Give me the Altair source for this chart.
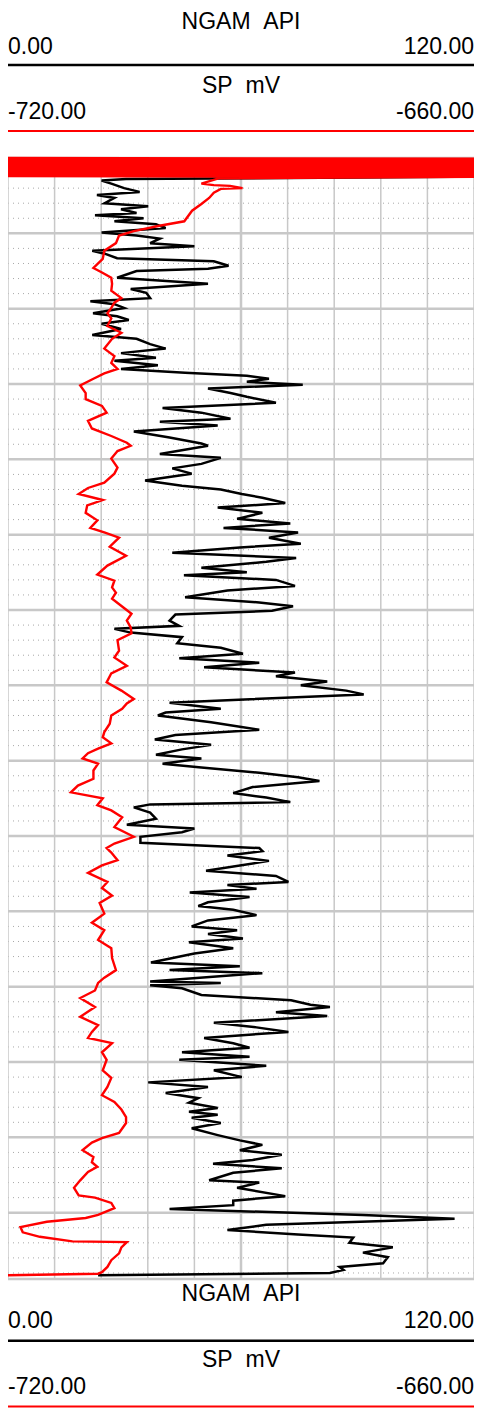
import altair as alt
import pandas as pd

# ---------------- data ----------------
gr_name = "NGAM\u00a0\u00a0API"
sp_name = "SP\u00a0\u00a0mV"
gr_domain = [0.0, 120.0]
sp_domain = [-720.0, -660.0]
depth_range = [0.0, 148.8]

grid_values_api = [0, 12, 24, 36, 48, 60, 72, 84, 96, 108, 120]
major_depths = [0, 10, 20, 30, 40, 50, 60, 70, 80, 90, 100, 110, 120, 130, 140, 148.8]
minor_depths = [d for d in range(2, 149, 2) if d % 10 != 0]

gr_depth = [0.4, 0.55, 0.65, 1.3, 1.45, 1.9, 2.0, 2.3, 2.5,
    2.8, 3.0, 3.4, 4.0, 4.5, 4.9, 5.3, 6.0, 6.4, 6.8, 7.3, 7.6, 8.0, 8.4, 8.8, 9.3, 9.9,
    10.3, 10.7, 11.3, 11.7, 12.3, 12.7, 13.3, 13.7, 14.3, 14.7, 15.0, 15.9, 16.7, 17.4,
    17.9, 18.6, 19.0, 19.4, 19.9, 20.6, 21.0, 21.5, 22.0, 22.7, 23.5, 24.0, 24.7, 25.3,
    25.9, 26.5, 26.9, 27.5, 28.0, 28.5, 28.9, 29.3, 29.7, 30.1, 30.6, 31.2, 31.7, 32.5,
    33.2, 33.8, 34.6, 35.0, 35.5, 36.3, 37.1, 37.9, 38.2, 39.3, 39.8, 40.6, 41.2, 41.9,
    42.8, 43.5, 44.0, 44.6, 45.1, 45.8, 46.4, 47.1, 47.9, 48.5, 49.1, 49.7, 50.4, 51.2,
    51.7, 52.4, 53.1, 53.6, 54.4, 55.0, 55.4, 56.0, 56.8, 57.4, 58.3, 59.0, 59.5, 60.1,
    60.6, 61.4, 62.1, 62.5, 63.0, 63.6, 64.4, 65.0, 65.8, 66.4, 67.0, 67.6, 68.3, 68.8,
    69.5, 70.0, 70.7, 71.2, 72.3, 73.1, 73.6, 74.0, 74.9, 75.9, 76.6, 77.2, 77.9, 78.5,
    79.2, 79.7, 80.4, 80.9, 81.6, 82.2, 82.7, 83.5, 84.3, 84.9, 85.5, 85.8, 86.2, 86.9,
    87.7, 88.5, 89.0, 89.5, 90.1, 90.9, 91.6, 92.0, 92.6, 93.3, 94.6, 95.3, 96.1, 96.5,
    97.0, 97.5, 98.1, 98.8, 99.3, 99.8, 100.5, 101.2, 102.0, 102.5, 103.0, 103.6, 104.1,
    104.9, 105.6, 106.8, 107.3, 107.8, 108.2, 109.3, 109.5, 109.8, 110.2, 111.1, 111.8,
    112.4, 112.7, 113.4, 113.9, 114.8, 115.4, 116.0, 116.8, 117.5, 118.1, 118.7, 119.3,
    119.7, 120.5, 121.1, 122.0, 122.7, 123.3, 124.1, 124.8, 125.4, 126.1, 126.6, 127.0,
    127.4, 128.1, 128.8, 129.7, 130.4, 131.0, 131.7, 132.3, 133.0, 133.5, 134.1, 134.7,
    135.7, 136.0, 136.7, 137.8, 138.4, 139.0, 139.5, 140.3, 140.8, 141.6, 142.3, 142.9,
    143.3, 144.0, 144.6, 145.3, 145.9, 146.7, 147.2, 147.6, 148.0, 148.3]
gr_api = [125, 84, 55, 61, 0, -5, 60, 125, 115,
    30.4, 24.1, 26.6, 29.9, 33.9, 22.9, 27.4, 24.9, 36.1, 29.1, 33.1, 22.4, 34.9, 27.4, 38.1, 40.6, 24.1,
    33.1, 39.1, 36.6, 48.0, 21.7, 24.9, 28.1, 53.0, 56.8, 51.5, 33.1, 28.1, 51.5, 31.6,
    35.6, 36.6, 21.2, 27.4, 29.9, 21.9, 28.1, 31.1, 24.1, 29.1, 21.7, 33.1, 36.6, 40.6,
    29.1, 38.1, 27.4, 38.6, 29.1, 45.6, 61.5, 67.2, 61.5, 75.9, 51.5, 57.3, 61.5, 69.0,
    39.8, 49.8, 57.3, 39.1, 54.0, 32.4, 41.6, 49.8, 51.5, 39.1, 54.8, 49.8, 42.3, 47.3,
    35.3, 44.8, 54.8, 60.2, 65.5, 71.4, 54.0, 65.5, 59.0, 72.7, 55.5, 74.7, 67.2, 75.4,
    59.7, 42.3, 74.2, 66.5, 49.8, 61.5, 45.3, 69.0, 73.9, 56.5, 45.6, 64.7, 73.4, 68.0,
    43.1, 41.6, 44.1, 27.4, 31.6, 44.8, 43.6, 54.8, 60.5, 44.1, 64.7, 50.5, 73.9, 69.0,
    82.2, 75.4, 87.1, 91.6, 41.6, 54.8, 40.6, 38.6, 52.3, 64.7, 43.1, 37.8, 52.3, 44.8,
    38.1, 49.8, 39.8, 49.8, 64.7, 74.7, 80.2, 63.0, 58.0, 66.5, 72.7, 36.6, 32.4, 36.6,
    38.1, 30.6, 48.0, 44.8, 34.1, 34.1, 64.7, 65.5, 56.5, 67.2, 51.0, 69.0, 72.2, 56.5,
    64.0, 46.8, 62.2, 51.5, 49.0, 58.0, 64.0, 51.5, 47.3, 59.0, 51.5, 60.5, 46.6,
    58.0, 48.0, 36.8, 59.7, 41.6, 65.5, 36.6, 54.8, 36.6, 44.8, 49.8, 72.9,
    77.9, 82.9, 69.0, 82.2, 53.0, 64.0, 72.2, 50.5, 58.0, 62.2, 44.8, 62.2,
    44.1, 66.5, 53.0, 60.2, 36.1, 51.5, 40.6, 49.0, 46.6, 54.0, 46.6, 54.0,
    47.3, 54.8, 47.3, 54.0, 59.7, 65.5, 59.7, 70.5, 63.0, 52.8, 70.5, 58.0,
    51.8, 64.7, 59.0, 71.4, 58.0, 58.0, 41.6, 91.4, 115.0, 66.5, 56.5, 74.7,
    88.9, 87.9, 99.1, 91.4, 97.8, 96.6, 85.4, 86.4, 82.9, 23.2]

# top of the SP log is off scale (dense wrap-around), then the readable curve
sp_band_depth = [0.0, 0.1, 0.2, 0.3, 0.4, 0.5, 0.6, 0.7, 0.8, 0.9, 1.0, 1.1, 1.2,
    1.3, 1.4, 1.5, 1.6, 1.7, 1.8, 1.9, 2.0, 2.1, 2.2, 2.3, 2.4, 2.5]
sp_band_mv = [-722, -658, -722, -658, -722, -658, -722, -658, -722, -658, -722, -658, -722,
    -658, -722, -658, -722, -658, -722, -658, -722, -658, -722, -658, -722, -658]
sp_depth = [
    2.7, 3.4, 3.6, 3.7, 4.0, 4.1, 4.6, 5.3, 6.1, 7.0, 8.4, 9.0, 9.7, 10.3, 11.3, 12.3,
    13.4, 14.6, 15.2, 15.9, 16.7, 17.6, 18.6, 19.2, 19.9, 20.6, 21.3, 22.3, 23.2, 24.0,
    25.3, 26.3, 27.2, 28.0, 28.6, 29.3, 30.2, 31.2, 32.0, 32.9, 33.8, 34.9, 35.9, 36.9,
    37.8, 38.2, 38.9, 39.9, 41.1, 41.9, 43.1, 43.8, 44.6, 45.4, 46.1, 47.1, 48.1, 49.1,
    49.7, 50.4, 51.6, 52.8, 54.1, 55.3, 56.1, 57.0, 57.7, 58.5, 59.7, 60.5, 61.4, 62.3,
    63.1, 64.0, 65.4, 66.3, 67.4, 68.4, 69.6, 70.7, 71.8, 72.4, 73.1, 74.0, 75.1, 76.2,
    76.9, 77.7, 78.4, 79.0, 79.7, 80.4, 81.3, 82.4, 83.3, 84.2, 85.0, 85.9, 86.6, 87.5,
    88.8, 90.1, 91.0, 91.6, 92.2, 93.2, 93.9, 94.9, 96.1, 96.9, 97.9, 98.9, 100.3, 101.5,
    102.5, 103.8, 104.9, 106.2, 107.8, 108.8, 109.5, 110.5, 111.5, 112.7, 114.0, 115.1,
    116.0, 116.8, 117.5, 118.7, 119.7, 121.1, 122.1, 123.3, 124.4, 125.3, 126.3, 127.3,
    128.1, 129.4, 130.1, 130.7, 131.7, 132.6, 133.3, 133.9, 134.6, 135.7, 136.7, 137.7,
    138.0, 138.7, 139.4, 140.3, 140.7, 141.2, 141.9, 142.6, 143.2, 143.8, 143.9, 144.6,
    145.4, 146.3, 147.2, 147.9, 148.1, 148.3]
sp_mv = [
    -692.9, -695.1, -693.5, -691.4, -689.8, -692.6, -693.5, -694.1, -695.1, -696.3, -697.3, -700.5, -703.8, -705.7, -706.1, -707.6,
    -707.8, -709.0, -707.9, -706.7, -706.6, -706.7, -705.4, -706.3, -706.7, -707.2, -706.7, -707.2, -705.4, -706.6,
    -707.6, -706.3, -706.7, -705.9, -707.6, -709.0, -710.7, -710.0, -710.0, -707.9, -707.3, -709.7, -709.2, -706.7,
    -704.7, -704.2, -705.9, -706.7, -705.9, -706.3, -707.6, -709.7, -710.9, -707.8, -709.8, -710.0, -708.5, -709.4,
    -707.6, -705.7, -706.9, -704.8, -707.2, -708.5, -706.3, -706.6, -706.1, -706.6, -705.1, -704.1, -704.7, -704.2,
    -704.1, -705.9, -705.7, -706.3, -704.7, -706.7, -707.3, -705.4, -703.8, -704.7, -705.3, -706.7, -706.9, -707.6,
    -707.8, -706.7, -708.4, -709.7, -710.4, -708.4, -709.0, -709.0, -711.0, -711.9, -707.8, -708.5, -706.7, -705.3,
    -706.3, -703.8, -706.3, -707.3, -706.7, -705.9, -707.9, -709.7, -707.2, -707.9, -706.6, -708.2, -707.6, -709.2,
    -707.6, -708.4, -706.7, -706.6, -706.1, -707.6, -708.4, -708.8, -710.7, -708.8, -710.7, -708.4,
    -709.2, -709.7, -706.6, -707.9, -707.3, -707.8, -706.7, -707.2, -707.9, -706.3, -705.4, -704.8,
    -704.8, -705.7, -707.9, -709.2, -710.4, -709.0, -709.2, -708.5, -709.7, -710.7, -711.5, -710.9,
    -708.8, -706.7, -706.3, -708.4, -710.0, -715.0, -718.4, -718.1, -715.9, -711.7, -704.7, -705.4,
    -705.7, -706.7, -707.2, -707.9, -708.4, -720.0]

# ---------------- layout / style ----------------
W = 466
H = 1400
TRACK_TOP, TRACK_BOTTOM = 150, 1271
FONT = "Liberation Sans"
FS = 23
GRID = "#c8c8c8"
RED = "#ff0000"

gr_df = pd.DataFrame({"depth": gr_depth, "api": gr_api})
sp_df = pd.DataFrame({"depth": sp_band_depth + sp_depth, "mv": sp_band_mv + sp_mv})

yscale = alt.Scale(domain=depth_range, range=[TRACK_TOP, TRACK_BOTTOM], nice=False, zero=False)
grx = alt.Scale(domain=gr_domain, nice=False, zero=False)
spx = alt.Scale(domain=sp_domain, nice=False, zero=False)

minor = alt.Chart(pd.DataFrame({"d": minor_depths})).mark_rule(
    color="#a8a8a8", strokeWidth=1, strokeDash=[1, 4]
).encode(y=alt.Y("d:Q", scale=yscale, axis=None))

vgrid = alt.Chart(
    pd.DataFrame({"v": grid_values_api, "top": depth_range[0], "bottom": depth_range[1]})
).mark_rule(color=GRID).encode(
    x=alt.X("v:Q", scale=grx, axis=None),
    y=alt.Y("top:Q", scale=yscale, axis=None),
    y2="bottom:Q",
    strokeWidth=alt.condition("datum.v == 60", alt.value(2.5), alt.value(1.5)),
)

major = alt.Chart(pd.DataFrame({"d": major_depths})).mark_rule(
    color=GRID, strokeWidth=2.5
).encode(y=alt.Y("d:Q", scale=yscale, axis=None))

gr_line = alt.Chart(gr_df).mark_line(color="black", strokeWidth=2.5, clip=True).encode(
    x=alt.X("api:Q", scale=grx, axis=None),
    y=alt.Y("depth:Q", scale=yscale, axis=None),
    order="depth:Q",
)

sp_line = alt.Chart(sp_df).mark_line(color=RED, strokeWidth=2.4, clip=True).encode(
    x=alt.X("mv:Q", scale=spx, axis=None),
    y=alt.Y("depth:Q", scale=yscale, axis=None),
    order="depth:Q",
)


def label(text, x, y, align):
    return alt.Chart(pd.DataFrame({"t": [text]})).mark_text(
        font=FONT, fontSize=FS, align=align, baseline="alphabetic", color="black"
    ).encode(text="t:N", x=alt.value(x), y=alt.value(y))


def hline(y, color, width):
    return alt.Chart(pd.DataFrame({"t": [0]})).mark_rule(
        color=color, strokeWidth=width
    ).encode(x=alt.value(0), x2=alt.value(W), y=alt.value(y))


def scale_block(ys):
    n1, v1, r1, n2, v2, r2 = ys
    return [
        label(gr_name, W / 2, n1, "center"),
        label(f"{gr_domain[0]:.2f}", 0, v1, "left"),
        label(f"{gr_domain[1]:.2f}", W, v1, "right"),
        hline(r1, "black", 2.5),
        label(sp_name, W / 2, n2, "center"),
        label(f"{sp_domain[0]:.2f}", 0, v2, "left"),
        label(f"{sp_domain[1]:.2f}", W, v2, "right"),
        hline(r2, RED, 2),
    ]


header = scale_block([21, 45.5, 57, 85.3, 111, 123])
footer = scale_block([1293, 1320.3, 1332.7, 1358.7, 1386, 1398.5])

chart = alt.layer(
    *header, minor, vgrid, major, gr_line, sp_line, *footer
).resolve_scale(x="independent").properties(
    width=W, height=H, padding=0,
    autosize=alt.AutoSizeParams(type="none"),
).configure_view(stroke=None)

chart.save("out.html", embed_options={"renderer": "svg", "actions": False})
